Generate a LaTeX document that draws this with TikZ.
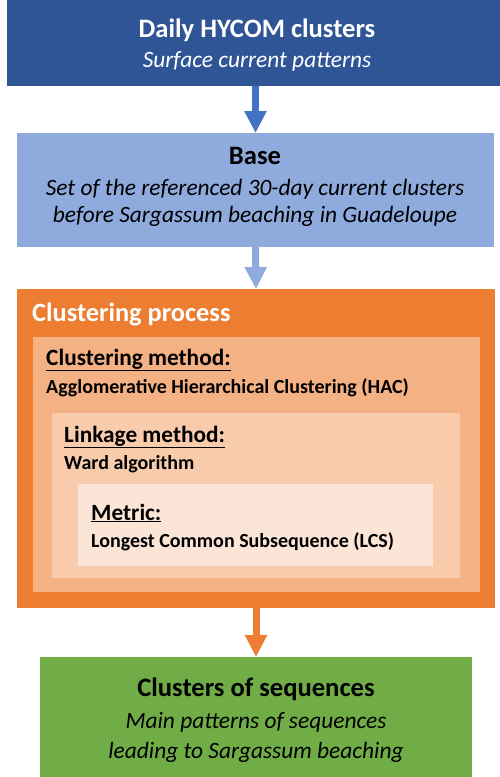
\documentclass[tikz,border=0pt]{standalone}
\usepackage{fontspec}
\setmainfont{Carlito}
\usetikzlibrary{arrows.meta}
\definecolor{dblue}{HTML}{2F5597}
\definecolor{mblue}{HTML}{4472C4}
\definecolor{lblue}{HTML}{8FAADC}
\definecolor{orng}{HTML}{ED7D31}
\definecolor{orng1}{HTML}{F4B183}
\definecolor{orng2}{HTML}{F8CBAD}
\definecolor{orng3}{HTML}{FBE5D6}
\definecolor{grn}{HTML}{70AD47}
\tikzset{
    BX/.style ={rectangle, inner sep=0pt, outer sep=0pt},
    AR/.style ={line width=7pt, -{Triangle[width=21pt,length=22pt]}, shorten >=0pt},
    TB/.style ={anchor=base, inner sep=0pt, font=\bfseries\fontsize{26.6}{30}\selectfont},
    TI/.style ={anchor=base, inner sep=0pt, font=\itshape\fontsize{23.4}{27}\selectfont},
    HD/.style ={anchor=base west, inner sep=0pt, font=\bfseries\fontsize{23.3}{27}\selectfont},
    SB/.style ={anchor=base west, inner sep=0pt, font=\bfseries\fontsize{20}{24}\selectfont}}
\begin{document}
\begin{tikzpicture}[x=1pt,y=-1pt]
        \useasboundingbox (0,0) rectangle (500,777);
        % boxes
        \node[BX, fill=dblue, minimum width=493pt, minimum height=86pt] (top) at(253.5,43){};
        \node[BX, fill=lblue, minimum width=477pt, minimum height=114pt] (base) at(255.5,190){};
        \node[BX, fill=orng, minimum width=478pt, minimum height=319pt] (proc) at(256,448.5){};
        \node[BX, fill=orng1, minimum width=447pt, minimum height=255pt] (meth) at(256.5,464.5){};
        \node[BX, fill=orng2, minimum width=408pt, minimum height=165pt] (link) at(256,495.5){};
        \node[BX, fill=orng3, minimum width=355pt, minimum height=82pt] (metr) at(255.5,525){};
        \node[BX, fill=grn, minimum width=432pt, minimum height=120pt] (res) at(256,717){};
        % texts
        \node[TB, white] (t1) at(257,37){Daily HYCOM clusters};
        \node[TI, white] (t2) at(257,67){Surface current patterns};
        \node[TB] (b1) at(255,164){Base};
        \node[TI] (b2) at(255,195){Set of the referenced 30-day current clusters};
        \node[TI] (b3) at(255,222){before Sargassum beaching in Guadeloupe};
        \node[HD, white, font=\bfseries\fontsize{26.4}{30}\selectfont] (p1) at(32,321){Clustering process};
        \node[HD] (m1) at(46,365){\underline{Clustering method:}};
        \node[SB] (m2) at(46,393){Agglomerative Hierarchical Clustering (HAC)};
        \node[HD] (l1) at(64,442){\underline{Linkage method:}};
        \node[SB] (l2) at(64,469){Ward algorithm};
        \node[HD] (r1) at(91,520){\underline{Metric:}};
        \node[SB] (r2) at(91,547){Longest Common Subsequence (LCS)};
        \node[TB] (c1) at(256,696){Clusters of sequences};
        \node[TI] (c2) at(256,728){Main patterns of sequences};
        \node[TI] (c3) at(256,758){leading to Sargassum beaching};
        % arrows
        \draw[AR, mblue] (base.north |- top.south) -- (base.north);
        \draw[AR, lblue] (base.south) -- (proc.north);
        \draw[AR, orng] (proc.south) -- (res.north);
    \end{tikzpicture}
\end{document}
